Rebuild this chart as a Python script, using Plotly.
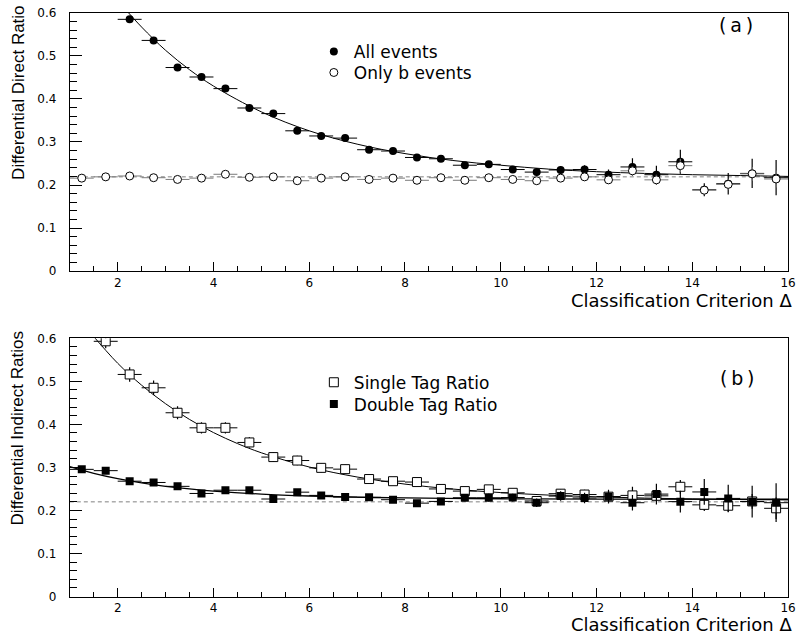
import plotly.graph_objects as go

# ---------------- data ----------------
bin_centers = [1.25, 1.75, 2.25, 2.75, 3.25, 3.75, 4.25, 4.75, 5.25, 5.75,
               6.25, 6.75, 7.25, 7.75, 8.25, 8.75, 9.25, 9.75, 10.25, 10.75,
               11.25, 11.75, 12.25, 12.75, 13.25, 13.75, 14.25, 14.75, 15.25, 15.75]
bin_half_width = 0.25

# panel (a)
all_events = [None, None, 0.585, 0.536, 0.473, 0.451, 0.424, 0.379, 0.366, 0.326,
              0.314, 0.309, 0.282, 0.279, 0.264, 0.261, 0.246, 0.248, 0.236, 0.230,
              0.235, 0.236, 0.224, 0.242, 0.224, 0.254, 0.189, 0.203, 0.227, 0.217]
all_events_err = [0, 0, 0.005, 0.005, 0.005, 0.005, 0.005, 0.005, 0.005, 0.005,
                  0.005, 0.005, 0.006, 0.006, 0.006, 0.007, 0.007, 0.008, 0.008, 0.009,
                  0.009, 0.010, 0.012, 0.020, 0.021, 0.028, 0.015, 0.025, 0.034, 0.041]
b_events = [0.216, 0.219, 0.221, 0.217, 0.213, 0.216, 0.225, 0.218, 0.219, 0.210,
            0.216, 0.219, 0.213, 0.216, 0.211, 0.217, 0.211, 0.217, 0.213, 0.210,
            0.216, 0.219, 0.212, 0.233, 0.212, 0.245, 0.188, 0.2015, 0.226, 0.214]
b_events_err = [0.003, 0.003, 0.003, 0.003, 0.003, 0.003, 0.003, 0.003, 0.003, 0.003,
                0.003, 0.003, 0.003, 0.003, 0.004, 0.004, 0.004, 0.004, 0.005, 0.005,
                0.006, 0.006, 0.008, 0.010, 0.012, 0.016, 0.010, 0.012, 0.016, 0.020]
fit_a_x = [2.1, 2.5, 3, 3.5, 4, 5, 6, 7, 8, 9, 10, 11, 12, 13, 14, 15, 16]
fit_a_y = [0.616, 0.567, 0.513, 0.468, 0.430, 0.370, 0.326, 0.295, 0.273, 0.257,
           0.246, 0.237, 0.231, 0.227, 0.224, 0.222, 0.220]
b_level = 0.219

# panel (b)
single_tag = [None, 0.593, 0.516, 0.485, 0.427, 0.392, 0.392, 0.358, 0.324, 0.316,
              0.299, 0.296, 0.273, 0.268, 0.266, 0.250, 0.245, 0.249, 0.241, 0.222,
              0.239, 0.237, 0.232, 0.235, 0.234, 0.255, 0.213, 0.211, 0.221, 0.205]
single_tag_err = [0, 0.016, 0.017, 0.017, 0.015, 0.013, 0.013, 0.012, 0.011, 0.011,
                  0.010, 0.010, 0.009, 0.009, 0.009, 0.009, 0.009, 0.009, 0.009, 0.010,
                  0.010, 0.011, 0.011, 0.020, 0.014, 0.016, 0.014, 0.014, 0.017, 0.025]
double_tag = [0.2955, 0.2925, 0.268, 0.265, 0.256, 0.2395, 0.247, 0.247, 0.2266, 0.2425,
              0.235, 0.231, 0.2305, 0.225, 0.217, 0.221, 0.2296, 0.2296, 0.230, 0.218,
              0.2334, 0.229, 0.232, 0.218, 0.238, 0.2205, 0.243, 0.228, 0.2205, 0.218]
double_tag_err = [0.006, 0.006, 0.006, 0.006, 0.006, 0.006, 0.006, 0.006, 0.006, 0.006,
                  0.006, 0.006, 0.007, 0.007, 0.007, 0.008, 0.008, 0.009, 0.009, 0.010,
                  0.011, 0.012, 0.016, 0.018, 0.024, 0.025, 0.030, 0.032, 0.037, 0.045]
fit_single_x = [1.4, 2, 2.5, 3, 3.5, 4, 4.5, 5, 6, 7, 8, 9, 10, 11, 12, 13, 14, 15, 16]
fit_single_y = [0.617, 0.542, 0.491, 0.448, 0.4115, 0.381, 0.3555, 0.334, 0.301, 0.2777,
                0.2612, 0.2497, 0.2415, 0.2357, 0.2317, 0.2288, 0.2268, 0.2254, 0.2244]
fit_double_x = [1, 1.5, 2, 2.5, 3, 3.5, 4, 5, 6, 7, 8, 10, 12, 16]
fit_double_y = [0.3017, 0.2862, 0.2738, 0.264, 0.2562, 0.250, 0.2451, 0.238, 0.2336,
                0.2308, 0.229, 0.2272, 0.2265, 0.226]
ref_level_b = 0.220

x_range = [1, 16]
y_range = [0, 0.6]
y_ticks = [0, 0.1, 0.2, 0.3, 0.4, 0.5, 0.6]
y_ticklabels = ["0", "0.1", "0.2", "0.3", "0.4", "0.5", "0.6"]
x_ticks = [2, 4, 6, 8, 10, 12, 14, 16]

# ---------------- figure ----------------
W, H = 804, 641
fig = go.Figure()

hx = [bin_half_width] * len(bin_centers)


def line_trace(x, y, xa, ya, color="black", dash="solid", width=1):
    return go.Scatter(x=x, y=y, xaxis=xa, yaxis=ya, mode="lines",
                      line=dict(color=color, dash=dash, width=width, shape="spline"),
                      showlegend=False, hoverinfo="skip")


def point_trace(y, err, xa, ya, name, symbol, fill, size, errcolor, legend):
    return go.Scatter(
        x=bin_centers, y=y, xaxis=xa, yaxis=ya, mode="markers", name=name,
        marker=dict(symbol=symbol, size=size, color=fill,
                    line=dict(color="black", width=1 if fill == "white" else 0)),
        error_x=dict(type="data", array=hx, visible=True, width=0,
                     thickness=1, color=errcolor),
        error_y=dict(type="data", array=err, visible=True, width=0,
                     thickness=1.2, color=errcolor),
        legend=legend,
    )


# panel (a)
fig.add_trace(line_trace(x_range, [b_level, b_level], "x", "y", color="#808080", dash="4px,3px"))
fig.add_trace(line_trace(fit_a_x, fit_a_y, "x", "y"))
fig.add_trace(point_trace(all_events, all_events_err, "x", "y", "All events",
                          "circle", "black", 8, "black", "legend"))
fig.add_trace(point_trace(b_events, b_events_err, "x", "y", "Only b events",
                          "circle", "white", 8, "#7a7a7a", "legend2"))

# panel (b)
fig.add_trace(line_trace(x_range, [ref_level_b, ref_level_b], "x2", "y2", color="#808080", dash="4px,3px"))
fig.add_trace(line_trace(fit_single_x, fit_single_y, "x2", "y2"))
fig.add_trace(line_trace(fit_double_x, fit_double_y, "x2", "y2", width=1.3))
fig.add_trace(point_trace(single_tag, single_tag_err, "x2", "y2", "Single Tag Ratio",
                          "square", "white", 9, "black", "legend3"))
fig.add_trace(point_trace(double_tag, double_tag_err, "x2", "y2", "Double Tag Ratio",
                          "square", "black", 8, "black", "legend4"))

xdom = [70.5 / W, 796 / W]
top_dom = [1 - 270 / H, 1 - 6 / H]
bot_dom = [1 - 602.7 / H, 1 - 338.7 / H]

tick_font = dict(family="DejaVu Sans", size=12, color="black")


def xaxis_cfg(dom_anchor):
    return dict(domain=xdom, range=x_range, anchor=dom_anchor, showgrid=False, zeroline=False,
                showline=True, mirror=True, linecolor="black", linewidth=1,
                ticks="inside", ticklen=9, tickcolor="black", tickwidth=1,
                tickvals=x_ticks, tickfont=tick_font, ticklabelstandoff=0,
                minor=dict(ticks="inside", ticklen=5, dtick=0.5, tick0=1,
                           tickcolor="black", tickwidth=1, showgrid=False))


def yaxis_cfg(dom, anchor):
    return dict(domain=dom, range=y_range, anchor=anchor, showgrid=False, zeroline=False,
                showline=True, mirror=True, linecolor="black", linewidth=1,
                ticks="inside", ticklen=12, tickcolor="black", tickwidth=1,
                tickvals=y_ticks, ticktext=y_ticklabels, tickfont=tick_font,
                ticklabelstandoff=10,
                minor=dict(ticks="inside", ticklen=7, dtick=0.02, tick0=0,
                           tickcolor="black", tickwidth=1, showgrid=False))


legend_font = dict(family="DejaVu Sans", size=17, color="black")


def legend_cfg(top_px):
    return dict(x=317 / W, y=1 - top_px / H, xanchor="left", yanchor="top",
                bgcolor="rgba(0,0,0,0)", font=legend_font, tracegroupgap=0)


fig.update_layout(
    width=W, height=H,
    margin=dict(l=0, r=0, t=0, b=0),
    paper_bgcolor="white", plot_bgcolor="white",
    xaxis=xaxis_cfg("y"), yaxis=yaxis_cfg(top_dom, "x"),
    xaxis2=xaxis_cfg("y2"), yaxis2=yaxis_cfg(bot_dom, "x2"),
    legend=legend_cfg(27.5),
    legend2=legend_cfg(49),
    legend3=legend_cfg(365.7),
    legend4=legend_cfg(388),
    showlegend=True,
)

title_font = dict(family="Liberation Sans", size=17, color="black")
xt_font = dict(family="DejaVu Sans", size=18, color="black")
panel_font = dict(family="DejaVu Sans", size=19, color="black")

annotations = [
    dict(text="Differential Direct Ratio", x=18 / W, y=1 - 88 / H, textangle=-90,
         font=title_font),
    dict(text="Differential Indirect Ratios", x=18 / W, y=1 - 431 / H, textangle=-90,
         font=title_font),
    dict(text="Classification Criterion Δ", x=802 / W, y=1 - 300 / H, xanchor="right",
         yanchor="middle", font=xt_font),
    dict(text="Classification Criterion Δ", x=802 / W, y=1 - 631 / H, xanchor="right",
         yanchor="middle", font=xt_font),
    dict(text="(\u2009a\u2009)", x=743 / W, y=1 - 18 / H, font=panel_font),
    dict(text="(\u2009b\u2009)", x=744 / W, y=1 - 379 / H, font=panel_font),
]
for a in annotations:
    a.update(xref="paper", yref="paper", showarrow=False)
    a.setdefault("xanchor", "center")
    a.setdefault("yanchor", "middle")
fig.update_layout(annotations=annotations)

fig.write_html("out.html")
